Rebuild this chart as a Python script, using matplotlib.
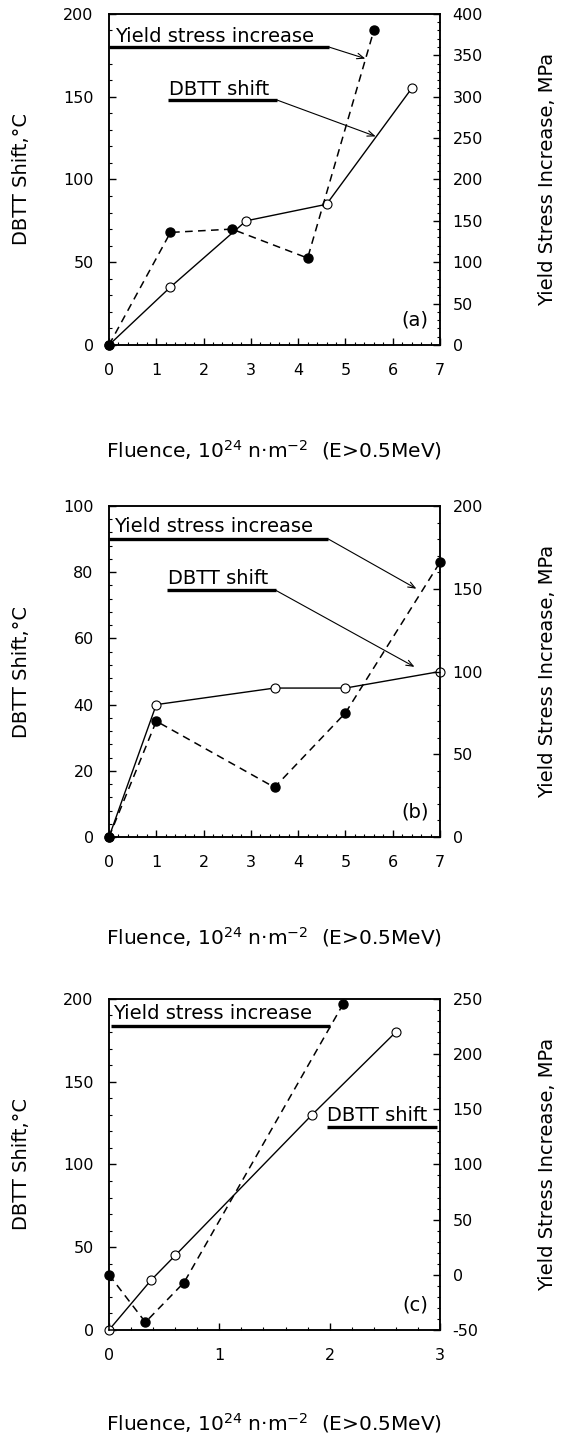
import numpy as np
import matplotlib.pyplot as plt
from matplotlib.ticker import MultipleLocator

plt.rcParams['font.family'] = ['DejaVu Sans']
plt.rcParams['axes.unicode_minus'] = False

# (a) DBTT shift (left axis) and yield stress increase (right axis)
a_dbtt_x = [0, 1.3, 2.9, 4.6, 6.4]
a_dbtt = [0, 35, 75, 85, 155]
a_ys_x = [0, 1.3, 2.6, 4.2, 5.6]
a_ys = [0, 136, 140, 105, 380]

# (b)
b_x = [0, 1, 3.5, 5, 7]
b_dbtt = [0, 40, 45, 45, 50]
b_ys = [0, 70, 30, 75, 166]

# (c)
c_dbtt_x = [0, 0.38, 0.6, 1.84, 2.6]
c_dbtt = [0, 30, 45, 130, 180]
c_ys_x = [0, 0.33, 0.68, 2.12]
c_ys = [0, -43, -7, 245]

xlabel = 'Fluence, 10$^{24}$ n\u00b7m$^{-2}$  (E>0.5MeV)'
ylabel_l = 'DBTT Shift,\u00b0C'
ylabel_r = 'Yield Stress Increase, MPa'

fig = plt.figure(figsize=(5.63, 14.35), dpi=100)


def panel(rect, xmax, xmaj, ymax, ymaj, ylim2, y2maj, tag, xlab_y):
    ax = fig.add_axes(rect)
    ax2 = ax.twinx()
    ax.set_xlim(0, xmax)
    ax.set_ylim(0, ymax)
    ax2.set_ylim(*ylim2)
    ax.xaxis.set_major_locator(MultipleLocator(xmaj))
    ax.xaxis.set_minor_locator(MultipleLocator(0.2))
    ax.yaxis.set_major_locator(MultipleLocator(ymaj))
    ax.yaxis.set_minor_locator(MultipleLocator(ymaj / 5))
    ax2.yaxis.set_major_locator(MultipleLocator(y2maj))
    ax2.yaxis.set_minor_locator(MultipleLocator(y2maj / 5))
    ax.tick_params(axis='both', which='both', direction='in', labelsize=11.5,
                   top=False, right=False)
    ax.tick_params(which='major', length=5, width=1)
    ax.tick_params(which='minor', length=2.5, width=0.8)
    ax.tick_params(axis='y', pad=11)
    ax.tick_params(axis='x', pad=13)
    ax2.tick_params(which='both', direction='in', labelsize=11.5, pad=9)
    ax2.tick_params(which='major', length=5, width=1)
    ax2.tick_params(which='minor', length=2.5, width=0.8)
    for s in ax.spines.values():
        s.set_linewidth(1.1)
    for s in ax2.spines.values():
        s.set_linewidth(1.1)
    ax.set_xlabel(xlabel, fontsize=14.5)
    ax.xaxis.set_label_coords(0.5, xlab_y)
    ax.set_ylabel(ylabel_l, fontsize=14)
    ax.yaxis.set_label_coords(-0.235, 0.5)
    ax2.set_ylabel(ylabel_r, fontsize=14)
    ax2.yaxis.set_label_coords(1.295, 0.5)
    ax.text(0.965, 0.075, tag, transform=ax.transAxes, ha='right', va='center',
            fontsize=14)
    return ax, ax2


def dbtt_line(ax, x, y):
    ax.plot(x, y, '-', color='k', lw=1.0, marker='o', ms=6.5, mfc='white',
            mec='k', mew=0.8, clip_on=False, zorder=3)


def ys_line(ax, x, y):
    ax.plot(x, y, color='k', lw=1.1, ls=(0, (5, 3.5)), marker='o', ms=6.5,
            mfc='k', mec='k', clip_on=False, zorder=3)


def label(ax, text, x, y, x0, x1, yl, tip=None):
    ax.text(x, y, text, fontsize=14, ha='left', va='baseline')
    ax.plot([x0, x1], [yl, yl], color='k', lw=2.4, solid_capstyle='butt')
    if tip is not None:
        ax.annotate('', xy=tip, xytext=(x1, yl),
                    arrowprops=dict(arrowstyle='->,head_length=0.5,head_width=0.2',
                                    color='k', lw=0.8, shrinkA=0, shrinkB=0))


# panel (a)
ax, ax2 = panel([0.1936, 0.7596, 0.588, 0.2307], 7, 1, 200, 50, (0, 400), 50,
                '(a)', -0.28)
label(ax, 'Yield stress increase', 0.12, 183, 0, 4.65, 180, tip=(5.42, 173))
label(ax, 'DBTT shift', 1.27, 151, 1.24, 3.55, 148, tip=(5.64, 126))
dbtt_line(ax, a_dbtt_x, a_dbtt)
ys_line(ax2, a_ys_x, a_ys)

# panel (b)
ax, ax2 = panel([0.1936, 0.4167, 0.588, 0.2307], 7, 1, 100, 20, (0, 200), 50,
                '(b)', -0.265)
label(ax, 'Yield stress increase', 0.1, 92, 0, 4.64, 90, tip=(6.5, 75))
label(ax, 'DBTT shift', 1.25, 76.3, 1.22, 3.53, 74.5, tip=(6.46, 51.4))
dbtt_line(ax, b_x, b_dbtt)
ys_line(ax2, b_x, b_ys)

# panel (c)
ax, ax2 = panel([0.1936, 0.0732, 0.588, 0.2307], 3, 1, 200, 50, (-50, 250), 50,
                '(c)', -0.245)
label(ax, 'Yield stress increase', 0.04, 187.8, 0.02, 2.0, 183.7)
label(ax, 'DBTT shift', 1.98, 126.5, 1.98, 2.97, 122.9)
dbtt_line(ax, c_dbtt_x, c_dbtt)
ys_line(ax2, c_ys_x, c_ys)

plt.savefig('out.png', dpi=100)
